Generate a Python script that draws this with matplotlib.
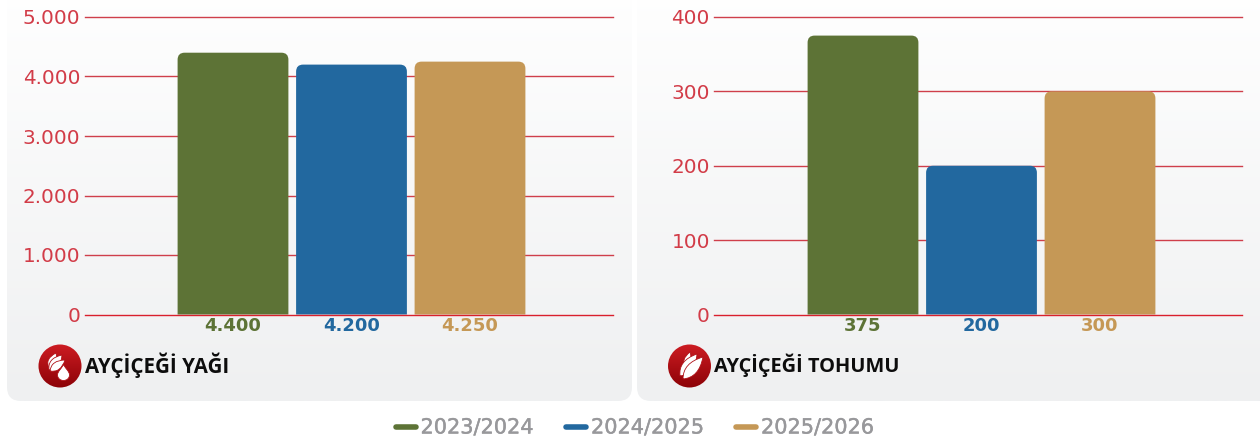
import numpy as np
import matplotlib
matplotlib.use("Agg")
import matplotlib.pyplot as plt
import matplotlib.patheffects as pe
from matplotlib.patches import FancyBboxPatch, PathPatch, Circle
from matplotlib.path import Path

seasons = ["2023/2024", "2024/2025", "2025/2026"]
colors = ["#5d7336", "#22689f", "#c59856"]
oil_values = [4400, 4200, 4250]
oil_labels = ["4.400", "4.200", "4.250"]
oil_ticks = [0, 1000, 2000, 3000, 4000, 5000]
oil_ticklabels = ["0", "1.000", "2.000", "3.000", "4.000", "5.000"]
seed_values = [375, 200, 300]
seed_labels = ["375", "200", "300"]
seed_ticks = [0, 100, 200, 300, 400]
seed_ticklabels = ["0", "100", "200", "300", "400"]

W, H = 1260, 441
RED = "#d23c48"
plt.rcParams['font.family'] = ['DejaVu Sans']

fig = plt.figure(figsize=(W / 100, H / 100), dpi=100)
fig.patch.set_facecolor("white")


def px_axes(x0, y0, x1, y1):
    # pixel box measured from top left
    return fig.add_axes([x0 / W, 1 - y1 / H, (x1 - x0) / W, (y1 - y0) / H])


# background in pixel coords
bg = px_axes(0, 0, W, H)
bg.axis("off")
grad = np.linspace(0, 1, 256).reshape(-1, 1)
cmap = matplotlib.colors.LinearSegmentedColormap.from_list("panel", ["#ffffff", "#eff0f1"])
for x0, x1 in [(7, 632), (637, 1280)]:
    im = bg.imshow(grad, extent=(x0, x1, 401, -20), cmap=cmap, aspect="auto", zorder=1)
    box = FancyBboxPatch((x0 + 14, -20), x1 - x0 - 28, 407, boxstyle="round,pad=14,rounding_size=14",
                         transform=bg.transData, fc="none", ec="none")
    bg.add_patch(box)
    im.set_clip_path(box)
bg.set_xlim(0, W)
bg.set_ylim(H, 0)


def rounded_bar(ax, x, width, height, color, rx, ry):
    l, r = x - width / 2, x + width / 2
    verts = [(l, 0), (l, height - ry), (l, height), (l + rx, height), (r - rx, height),
             (r, height), (r, height - ry), (r, 0), (l, 0)]
    codes = [Path.MOVETO, Path.LINETO, Path.CURVE3, Path.CURVE3, Path.LINETO,
             Path.CURVE3, Path.CURVE3, Path.LINETO, Path.CLOSEPOLY]
    ax.add_patch(PathPatch(Path(verts, codes), fc=color, ec="none", zorder=3))


step = 118.5
for x0, x1, cx, values, labels, ticks, ticklabels in [
    (84.5, 613, 351.5, oil_values, oil_labels, oil_ticks, oil_ticklabels),
    (714, 1242, 981.5, seed_values, seed_labels, seed_ticks, seed_ticklabels),
]:
    ax = px_axes(x0, 17, x1, 314.5)
    ax.patch.set_alpha(0)
    ax.set_xlim((x0 - cx) / step, (x1 - cx) / step)
    ax.set_ylim(0, ticks[-1])
    for s in ax.spines.values():
        s.set_visible(False)
    ax.set_xticks([])
    ax.set_yticks(ticks)
    ax.set_yticklabels(ticklabels, color=RED, fontsize=14.4)
    ax.tick_params(axis="y", length=0, pad=3)
    for t in ticks:
        ax.axhline(t, color="#d9202c" if t == 0 else "#cf3f4b", lw=1, zorder=2 if t else 4, clip_on=False)
    ry = ticks[-1] * 7 / 297.5
    for i, v in enumerate(values):
        rounded_bar(ax, i - 1, 0.935, v, colors[i], 7 / step, ry)
        ax.annotate(labels[i], (i - 1, 0), xytext=(0, -8.5), textcoords="offset points",
                    ha="center", va="center", color=colors[i], fontsize=13, fontweight="bold",
                    annotation_clip=False)

# icons and titles
bg2 = px_axes(0, 0, W, H)
bg2.axis("off")
red_cmap = matplotlib.colors.LinearSegmentedColormap.from_list("icon", ["#cd1c22", "#8c0207"])


def leaf(base, tip, w):
    # pointed seed shape from base to tip
    base, tip = np.array(base, float), np.array(tip, float)
    d = tip - base
    n = np.array([-d[1], d[0]]) / np.hypot(*d) * w
    m = base + d * 0.4
    verts = [base, m + n, tip, m - n, base]
    codes = [Path.MOVETO, Path.CURVE3, Path.CURVE3, Path.CURVE3, Path.CURVE3]
    return PathPatch(Path(verts, codes), fc="white", ec="#b01218", lw=0.6, zorder=3)


for cx, title, tx, fs in [(60, "AYÇİÇEĞİ YAĞI", 85, 14.8), (689.5, "AYÇİÇEĞİ TOHUMU", 714.5, 14.4)]:
    im = bg2.imshow(grad, extent=(cx - 22, cx + 22, 388, 344), cmap=red_cmap, aspect="auto", zorder=2)
    circ = Circle((cx, 366), 21.5, transform=bg2.transData, fc="none", ec="none")
    bg2.add_patch(circ)
    im.set_clip_path(circ)
    bg2.text(tx, 365.5, title, color="#0d0d0d", fontsize=fs, fontweight="bold",
             family="Open Sans", ha="left", va="center", zorder=4)

# oil icon: seeds and a drop
for base, tip, w in [((49, 368), (56, 353), 8), ((49, 370), (62, 355), 9), ((50, 371), (65, 360), 8)]:
    bg2.add_patch(leaf(base, tip, w))
drop = [(63.5, 364), (64.5, 368), (69.5, 371), (69.5, 375), (69.5, 378.5), (66.5, 380.5), (63.5, 380.5),
        (60.5, 380.5), (57.5, 378.5), (57.5, 375), (57.5, 371), (62.5, 368), (63.5, 364)]
bg2.add_patch(PathPatch(Path(drop, [Path.MOVETO] + [Path.CURVE4] * 12), fc="white", ec="#b01218", lw=0.6, zorder=4))

# seed icon
for base, tip, w in [((685, 368), (690, 352), 7), ((680, 376), (697, 354), 11), ((683, 379), (703, 357), 11)]:
    bg2.add_patch(leaf(base, tip, w))

bg2.set_xlim(0, W)
bg2.set_ylim(H, 0)

# legend
for lx, season, c in zip([393.5, 564, 734], seasons, colors):
    bg2.plot([lx + 2, lx + 22], [427, 427], color=c, lw=4, solid_capstyle="round", zorder=3)
    bg2.text(lx + 27, 427.5, season, color="#98989b", fontsize=15, ha="left", va="center",
             path_effects=[pe.withStroke(linewidth=0.3, foreground="#98989b")])

fig.savefig("out.png", dpi=100)
